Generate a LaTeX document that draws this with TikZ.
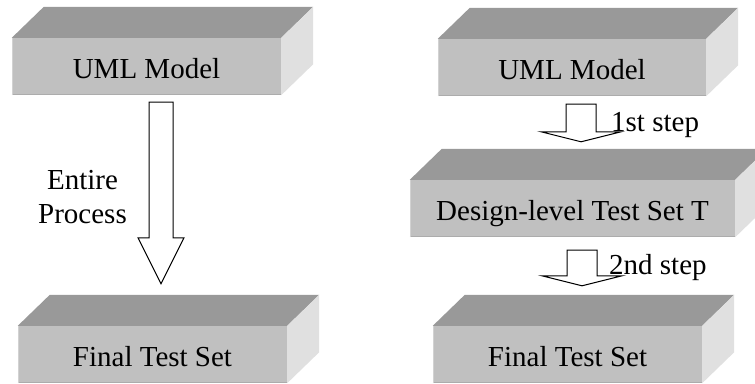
\documentclass[tikz,border=0pt]{standalone}
\usepackage{fontspec}
\setmainfont{Liberation Serif}
\usepackage{tikz}
\usetikzlibrary{calc}
\definecolor{grisdessus}{RGB}{153,153,153}
\definecolor{grisface}{RGB}{192,192,192}
\definecolor{griscote}{RGB}{224,224,224}
\definecolor{grisbord}{RGB}{172,172,172}
\definecolor{grisclair}{RGB}{210,210,210}

\tikzset{
	bloc/.style={fill=grisface, minimum height=57pt, inner sep=0pt,
		text height=24pt, text depth=0pt, font=\fontsize{29}{34}\selectfont},
	fleche/.style={draw=black, line width=1pt, fill=white, line join=miter},
	legende/.style={inner sep=0pt, font=\fontsize{29}{34}\selectfont}
}
% fleche pleine : depart, pointe, demi-largeur tige, demi-largeur tete, longueur tete
\newcommand{\blocfleche}[5]{%
	\draw[fleche] ($(#1)+(-#3,0)$) -- ($(#2)+(-#3,#5)$) -- ($(#2)+(-#4,#5)$) -- (#2)
	-- ($(#2)+(#4,#5)$) -- ($(#2)+(#3,#5)$) -- ($(#1)+(#3,0)$) -- cycle;}

\begin{document}
\begin{tikzpicture}[x=1pt, y=1pt]
				\clip (0,0) rectangle (755,383);
				\fill[white] (0,0) rectangle (755,383);
				% blocs
				\node[bloc, minimum width=269pt] (umlA) at (146.5,316.5) {UML Model};
				\node[bloc, minimum width=269pt] (finA) at (152.5,28.5) {Final Test Set};
				\node[bloc, minimum width=268pt] (umlB) at (572,315.5) {UML Model};
				\node[bloc, minimum width=325pt] (dsgB) at (572.5,174.5) {Design-level Test Set T};
				\node[bloc, minimum width=269pt] (finB) at (567.5,28.5) {Final Test Set};
				% relief
				\foreach \b in {umlA, finA, umlB, dsgB, finB} {
					\fill[grisdessus] (\b.north west) -- ++(32,31) -- ($(\b.north east)+(32,31)$) -- (\b.north east) -- cycle;
					\fill[griscote] (\b.north east) -- ++(32,31) -- ($(\b.south east)+(32,31)$) -- (\b.south east) -- cycle;
					\draw[grisbord, line width=1.5pt] ($(\b.south west)+(0,0.75)$) -- ($(\b.south east)+(0,0.75)$);
					\draw[grisclair, line width=1.5pt] ($(\b.south west)+(0.75,0)$) -- ($(\b.north west)+(0.75,0)$);
				}
				% processus complet
				\coordinate (s1) at ($(umlA.south)+(14.5,-7)$);
				\coordinate (t1) at ($(s1 |- finA.north)+(0,42)$);
				\blocfleche{s1}{t1}{12}{23}{46}
				\node[legende, align=center] (proc) at (82.5,186) {Entire\\Process};
				% deux etapes
				\coordinate (s2) at ($(umlB.south)+(9,-8)$);
				\coordinate (t2) at ($(s2 |- dsgB.north)+(0,38)$);
				\blocfleche{s2}{t2}{15}{40}{10}
				\coordinate (s3) at ($(dsgB.south)+(9.5,-13)$);
				\coordinate (t3) at ($(s3 |- finB.north)+(0,40)$);
				\blocfleche{s3}{t3}{15}{40}{10}
				\node[legende, anchor=base west] (etape1) at (611,251) {1st step};
				\node[legende, anchor=base west] (etape2) at (609,108) {2nd step};
			\end{tikzpicture}
\end{document}
